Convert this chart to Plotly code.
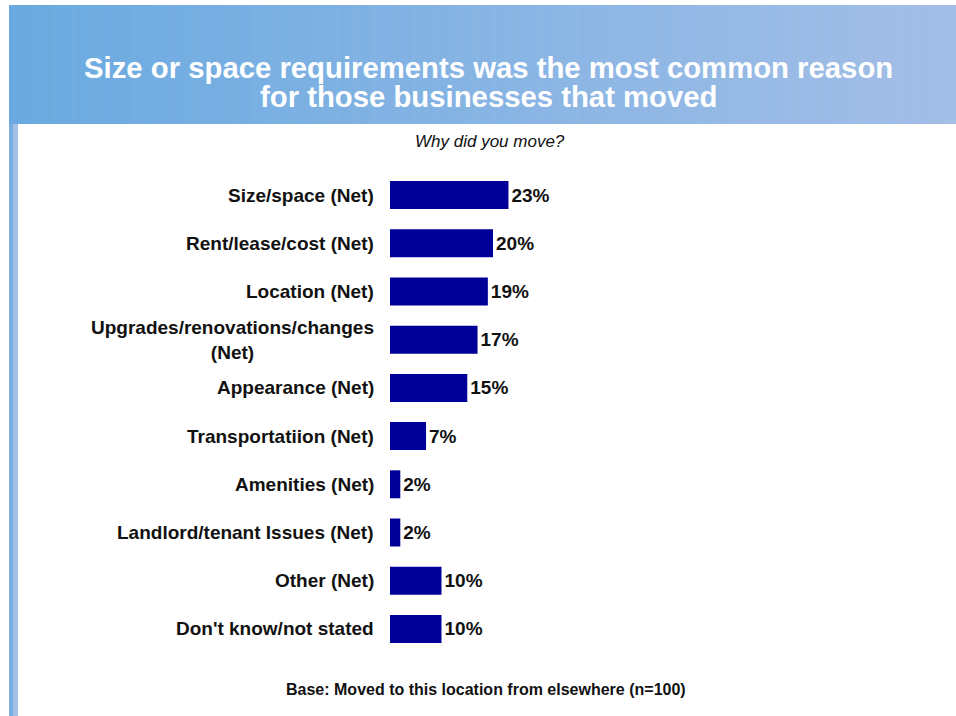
import plotly.graph_objects as go

# Survey data: reasons for moving
categories = [
    "Size/space (Net)",
    "Rent/lease/cost (Net)",
    "Location (Net)",
    "Upgrades/renovations/changes<br>(Net)",
    "Appearance (Net)",
    "Transportatiion (Net)",
    "Amenities (Net)",
    "Landlord/tenant Issues (Net)",
    "Other (Net)",
    "Don't know/not stated",
]
values = [23, 20, 19, 17, 15, 7, 2, 2, 10, 10]

title_lines = [
    "Size or space requirements was the most common reason",
    "for those businesses that moved",
]
subtitle = "Why did you move?"
footnote = "Base: Moved to this location from elsewhere (n=100)"

W, H = 956, 716
ML, MR, MT, MB = 390, 0, 171, 63
PW, PH = W - ML - MR, H - MT - MB
PX_PER_PCT = 5.15

FONT = "Liberation Sans, Arial, sans-serif"
BAR = "#000099"


def px_x(px):
    return (px - ML) / PW


def px_y(py):
    return (H - MB - py) / PH


fig = go.Figure(
    go.Bar(
        x=values,
        y=list(range(len(categories))),
        orientation="h",
        marker=dict(color=BAR, line=dict(width=0)),
        width=0.58,
        text=[f"{v}%" for v in values],
        textposition="outside",
        textfont=dict(family=FONT, size=19, color="#111111", weight="bold"),
        cliponaxis=False,
        hoverinfo="skip",
    )
)

# Category labels, right-aligned against the bars
annotations = []
for i, cat in enumerate(categories):
    annotations.append(dict(
        x=0, y=i, xref="x", yref="y", text=cat, showarrow=False,
        xanchor="right", yanchor="middle", xshift=-14, align="center",
        font=dict(family=FONT, size=19, color="#111111", weight="bold"),
    ))

# Header title lines
for text, cy in zip(title_lines, [67, 96]):
    annotations.append(dict(
        x=px_x(488), y=px_y(cy), xref="paper", yref="paper", text=text,
        showarrow=False, xanchor="center", yanchor="middle",
        font=dict(family=FONT, size=29.3, color="white", weight="bold"),
    ))

annotations.append(dict(
    x=px_x(490), y=px_y(141), xref="paper", yref="paper", text=subtitle,
    showarrow=False, xanchor="center", yanchor="middle",
    font=dict(family=FONT, size=17, color="#111111", style="italic"),
))
annotations.append(dict(
    x=px_x(486), y=px_y(689), xref="paper", yref="paper", text=footnote,
    showarrow=False, xanchor="center", yanchor="middle",
    font=dict(family=FONT, size=16, color="#111111", weight="bold"),
))

# Gradient header band built from thin vertical strips
shapes = []
x0, x1, y0, y1 = 9, W, 5, 124
c0, c1 = (106, 170, 224), (163, 190, 231)
n = 150
for k in range(n):
    t = k / (n - 1)
    col = tuple(round(a + (b - a) * t) for a, b in zip(c0, c1))
    sx0 = x0 + (x1 - x0) * k / n
    sx1 = x0 + (x1 - x0) * (k + 1) / n + 0.6
    shapes.append(dict(
        type="rect", xref="paper", yref="paper", layer="below",
        x0=px_x(sx0), x1=px_x(sx1), y0=px_y(y1), y1=px_y(y0),
        fillcolor=f"rgb{col}", line=dict(width=0),
    ))

# Left edge stripe
shapes.append(dict(type="rect", xref="paper", yref="paper", layer="below",
                   x0=px_x(9), x1=px_x(13), y0=px_y(H), y1=px_y(y1),
                   fillcolor="#79aee0", line=dict(width=0)))
shapes.append(dict(type="rect", xref="paper", yref="paper", layer="below",
                   x0=px_x(13), x1=px_x(18), y0=px_y(H), y1=px_y(y1),
                   fillcolor="#a3c0e7", line=dict(width=0)))

fig.update_layout(
    width=W, height=H,
    margin=dict(l=ML, r=MR, t=MT, b=MB, pad=0),
    paper_bgcolor="white", plot_bgcolor="rgba(0,0,0,0)",
    showlegend=False,
    xaxis=dict(range=[0, PW / PX_PER_PCT], visible=False, fixedrange=True),
    yaxis=dict(range=[len(categories) - 0.5, -0.5], visible=False, fixedrange=True),
    annotations=annotations,
    shapes=shapes,
    uniformtext=dict(mode=False),
)

fig.write_html("out.html")
